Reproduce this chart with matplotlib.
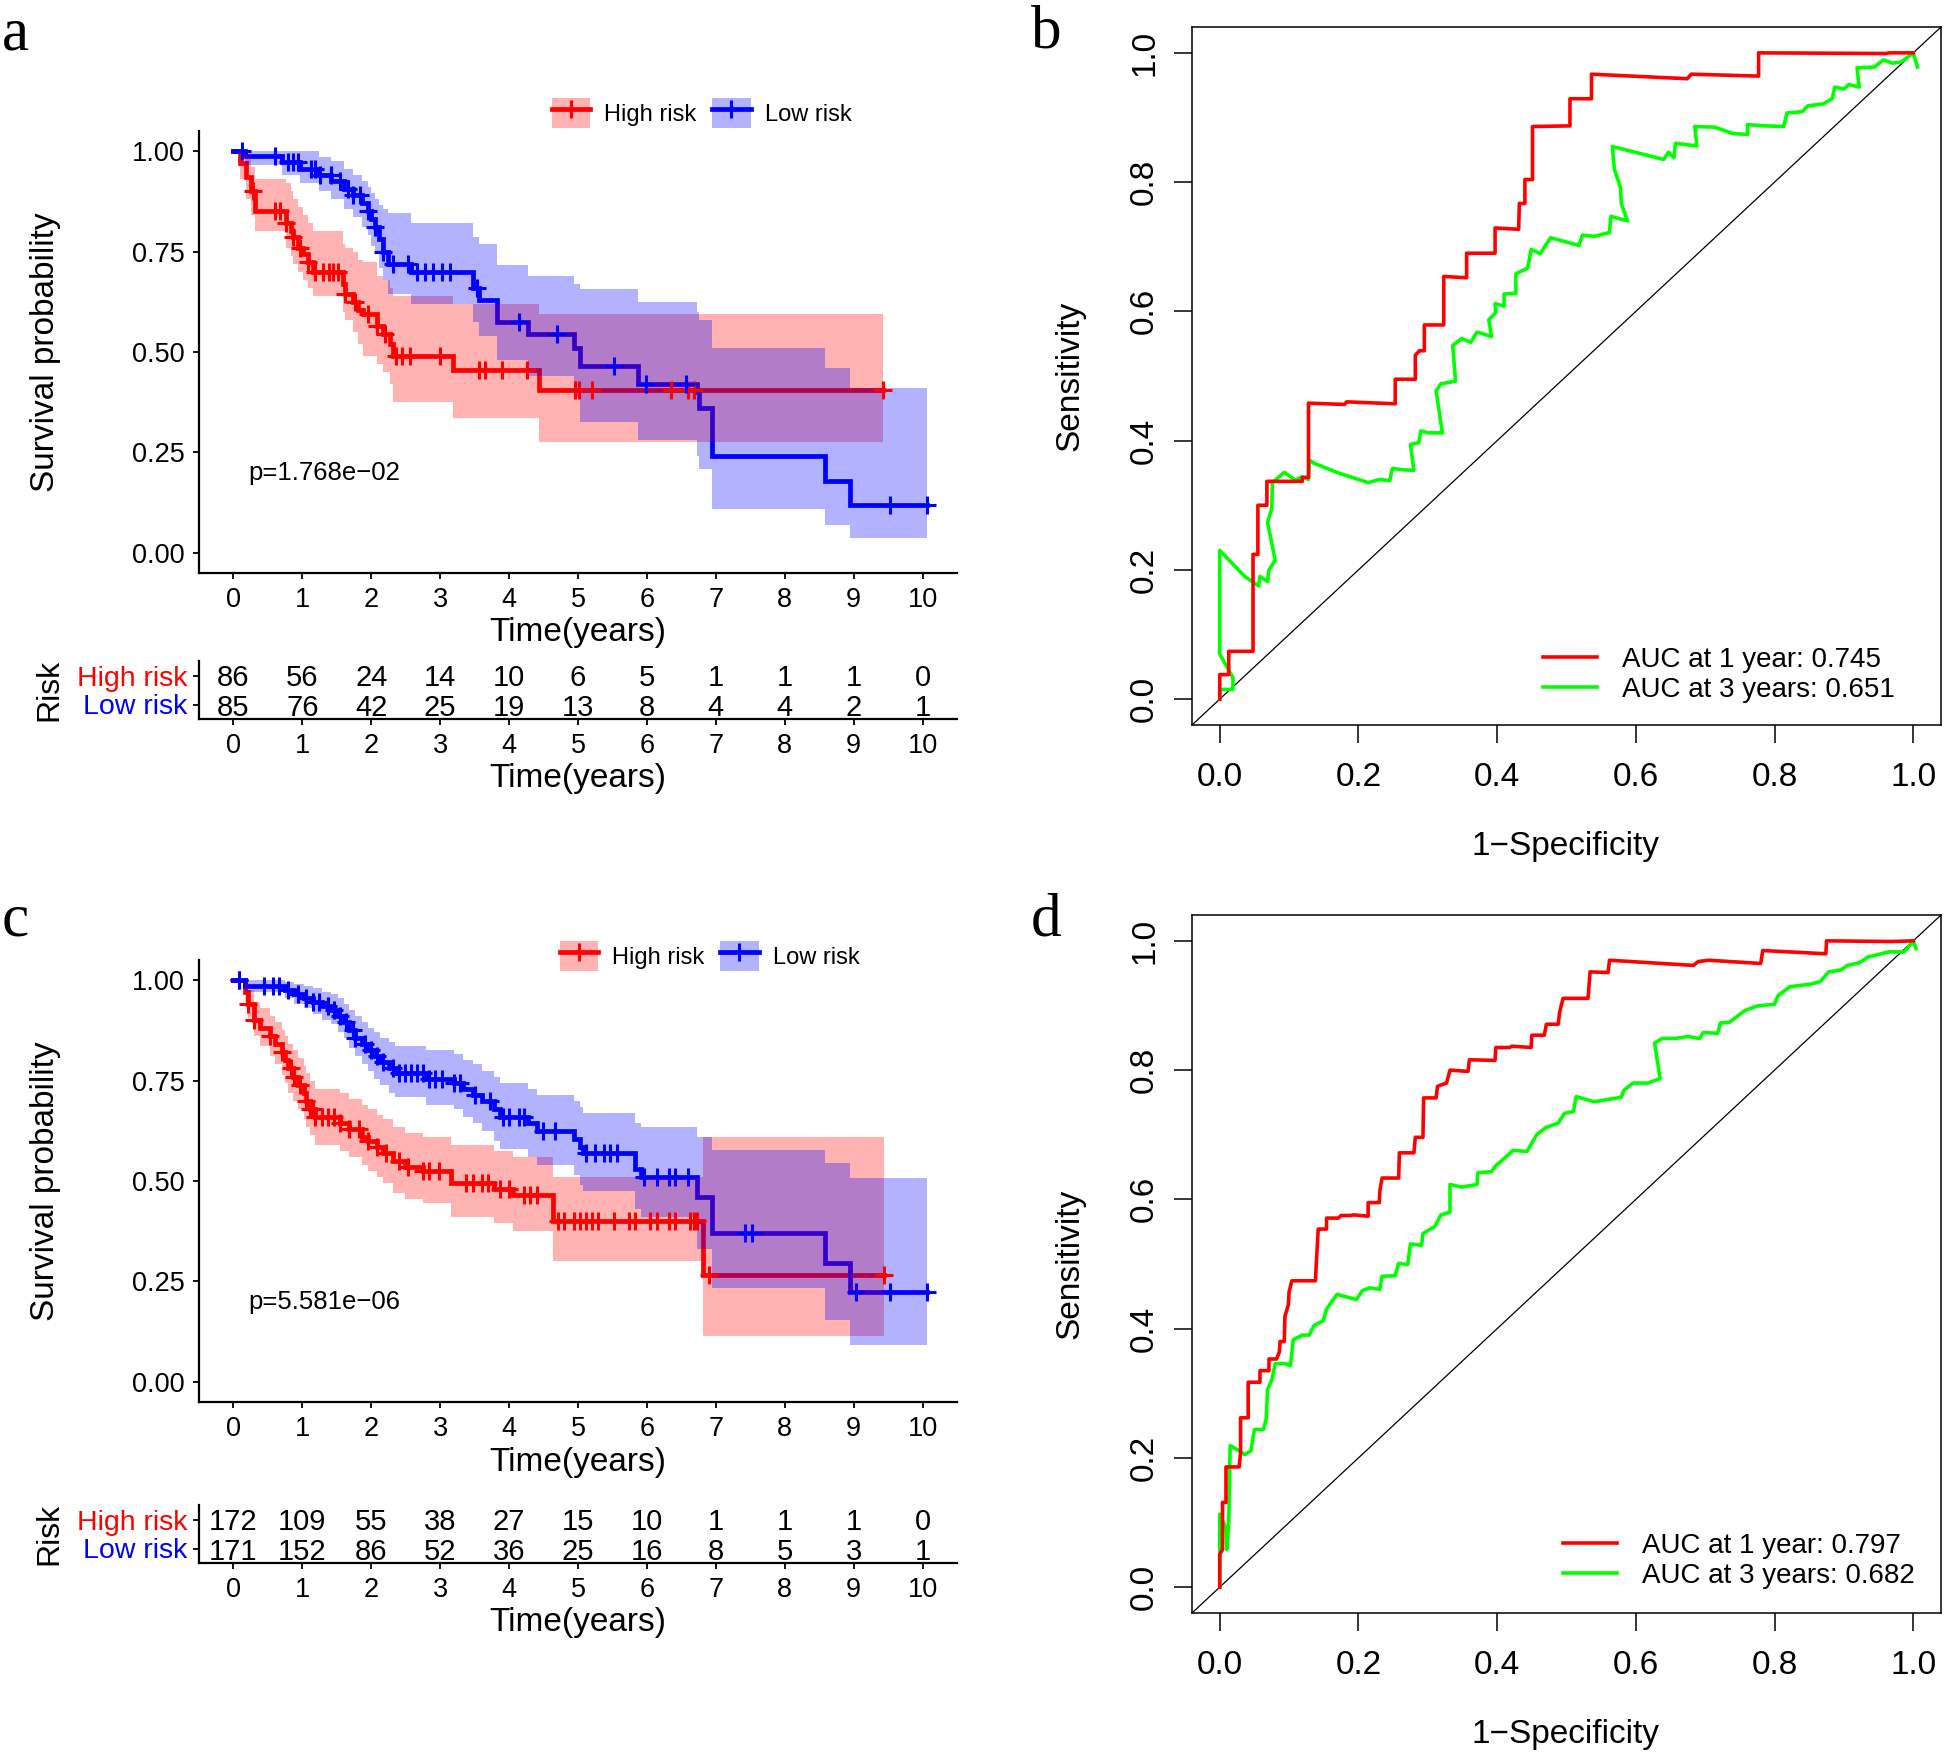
import numpy as np
import matplotlib
matplotlib.use('Agg')
import matplotlib.pyplot as plt
from matplotlib.patches import Patch
from matplotlib.lines import Line2D
from matplotlib.legend_handler import HandlerTuple

plt.rcParams['font.family'] = ['Liberation Sans', 'DejaVu Sans']

# ---------------- data ----------------
years = list(range(11))

# panel a: KM steps (time, survival, lower CI, upper CI)
a_high_t = [0, 0.09, 0.18, 0.25, 0.31, 0.76, 0.83, 0.87, 0.94, 1.01, 1.08, 1.16, 1.59, 1.62, 1.73, 1.81, 1.88, 2.09, 2.17, 2.27, 2.31, 3.18, 4.44]
a_high_s = [1.0, 0.97, 0.935, 0.90, 0.85, 0.82, 0.80, 0.785, 0.76, 0.745, 0.725, 0.70, 0.67, 0.645, 0.625, 0.605, 0.595, 0.565, 0.545, 0.52, 0.49, 0.456, 0.405]
a_high_lo = [1.0, 0.93, 0.88, 0.84, 0.80, 0.76, 0.74, 0.72, 0.70, 0.68, 0.66, 0.64, 0.60, 0.58, 0.55, 0.52, 0.49, 0.47, 0.45, 0.42, 0.375, 0.335, 0.275]
a_high_hi = [1.0, 1.0, 0.99, 0.96, 0.93, 0.92, 0.90, 0.88, 0.86, 0.84, 0.82, 0.80, 0.77, 0.76, 0.75, 0.73, 0.725, 0.69, 0.68, 0.66, 0.64, 0.62, 0.595]
a_high_end = 9.42
a_high_cens = [0.29, 0.61, 0.67, 0.76, 0.87, 0.97, 1.08, 1.19, 1.30, 1.38, 1.45, 1.52, 1.62, 1.77, 1.95, 2.09, 2.20,
               2.36, 2.45, 2.56, 3.00, 3.57, 3.65, 3.90, 4.26, 4.95, 5.02, 5.20, 6.35, 6.60, 6.68, 9.42]

a_low_t = [0, 0.17, 0.70, 0.97, 1.24, 1.42, 1.60, 1.73, 1.86, 1.95, 2.00, 2.06, 2.11, 2.17, 2.24, 2.58, 3.47, 3.56, 3.82, 4.27, 4.94, 5.03, 5.87, 6.72, 6.76, 6.94, 8.59, 8.95]
a_low_s = [1.0, 0.988, 0.972, 0.956, 0.94, 0.925, 0.905, 0.89, 0.87, 0.85, 0.83, 0.81, 0.78, 0.75, 0.72, 0.70, 0.66, 0.63, 0.575, 0.545, 0.51, 0.465, 0.42, 0.40, 0.36, 0.24, 0.18, 0.12]
a_low_lo = [1.0, 0.965, 0.94, 0.92, 0.90, 0.88, 0.855, 0.835, 0.81, 0.79, 0.765, 0.745, 0.71, 0.68, 0.645, 0.62, 0.575, 0.54, 0.48, 0.44, 0.39, 0.325, 0.28, 0.24, 0.21, 0.11, 0.07, 0.036]
a_low_hi = [1.0, 1.0, 1.0, 1.0, 0.985, 0.975, 0.955, 0.94, 0.925, 0.91, 0.895, 0.88, 0.865, 0.855, 0.845, 0.82, 0.787, 0.77, 0.716, 0.69, 0.67, 0.658, 0.625, 0.60, 0.58, 0.51, 0.46, 0.41]
a_low_end = 10.07
a_low_cens = [0.12, 0.61, 0.79, 0.87, 0.94, 1.12, 1.19, 1.26, 1.41, 1.55, 1.66, 1.73, 1.84, 1.95, 2.06, 2.17, 2.31,
              2.53, 2.67, 2.78, 2.89, 3.03, 3.14, 3.54, 4.15, 4.69, 5.52, 5.99, 6.57, 9.53, 10.07]

a_high_risk = [86, 56, 24, 14, 10, 6, 5, 1, 1, 1, 0]
a_low_risk = [85, 76, 42, 25, 19, 13, 8, 4, 4, 2, 1]
a_pval = 'p=1.768e\u221202'

# panel c
c_high_t = [0, 0.17, 0.21, 0.30, 0.39, 0.53, 0.61, 0.70, 0.75, 0.79, 0.86, 0.93, 1.02, 1.06, 1.11, 1.19, 1.55, 1.68, 1.86, 1.95, 2.09, 2.17, 2.31, 2.49, 2.75, 3.16, 3.78, 4.05, 4.63, 6.81]
c_high_s = [1.0, 0.97, 0.94, 0.90, 0.88, 0.86, 0.84, 0.82, 0.80, 0.78, 0.76, 0.74, 0.72, 0.70, 0.68, 0.66, 0.645, 0.63, 0.61, 0.60, 0.585, 0.57, 0.55, 0.535, 0.525, 0.495, 0.48, 0.465, 0.40, 0.265]
c_high_lo = [1.0, 0.945, 0.905, 0.86, 0.835, 0.81, 0.79, 0.765, 0.745, 0.72, 0.70, 0.68, 0.655, 0.635, 0.615, 0.59, 0.575, 0.56, 0.54, 0.525, 0.51, 0.495, 0.47, 0.455, 0.445, 0.41, 0.395, 0.375, 0.30, 0.115]
c_high_hi = [1.0, 0.995, 0.975, 0.945, 0.93, 0.91, 0.895, 0.875, 0.86, 0.84, 0.825, 0.805, 0.785, 0.77, 0.75, 0.73, 0.72, 0.705, 0.69, 0.68, 0.665, 0.655, 0.635, 0.62, 0.61, 0.59, 0.575, 0.56, 0.51, 0.61]
c_high_end = 9.44
c_high_cens = [0.08, 0.21, 0.30, 0.53, 0.70, 0.84, 0.88, 0.97, 1.06, 1.11, 1.15, 1.19, 1.28, 1.37, 1.46, 1.55, 1.68,
               1.82, 1.95, 2.09, 2.22, 2.40, 2.53, 2.75, 2.84, 2.98, 3.38, 3.47, 3.60, 3.69, 3.87, 4.00, 4.22, 4.31,
               4.40, 4.71, 4.80, 4.94, 5.03, 5.12, 5.20, 5.29, 5.52, 5.74, 5.83, 6.05, 6.14, 6.32, 6.41, 6.63, 6.68,
               6.72, 6.90, 9.44]

c_low_t = [0, 0.17, 0.75, 0.88, 1.02, 1.15, 1.28, 1.42, 1.51, 1.60, 1.68, 1.77, 1.86, 1.95, 2.04, 2.13, 2.26, 2.35, 2.80, 3.20, 3.33, 3.47, 3.60, 3.78, 3.87, 4.27, 4.40, 4.94, 5.03, 5.07, 5.83, 5.92, 6.72, 6.94, 8.59, 8.95]
c_low_s = [1.0, 0.985, 0.975, 0.965, 0.955, 0.945, 0.935, 0.925, 0.91, 0.895, 0.875, 0.855, 0.84, 0.825, 0.81, 0.795, 0.78, 0.77, 0.755, 0.745, 0.73, 0.715, 0.70, 0.68, 0.66, 0.645, 0.625, 0.605, 0.585, 0.57, 0.53, 0.51, 0.46, 0.37, 0.295, 0.225]
c_low_lo = [1.0, 0.97, 0.955, 0.94, 0.93, 0.915, 0.90, 0.89, 0.87, 0.855, 0.83, 0.81, 0.79, 0.775, 0.755, 0.74, 0.72, 0.71, 0.69, 0.68, 0.66, 0.645, 0.625, 0.60, 0.58, 0.56, 0.54, 0.515, 0.49, 0.475, 0.43, 0.41, 0.33, 0.233, 0.154, 0.092]
c_low_hi = [1.0, 1.0, 0.995, 0.99, 0.985, 0.98, 0.97, 0.965, 0.955, 0.94, 0.925, 0.91, 0.895, 0.88, 0.87, 0.855, 0.845, 0.835, 0.825, 0.815, 0.80, 0.79, 0.775, 0.76, 0.745, 0.73, 0.715, 0.70, 0.685, 0.67, 0.645, 0.635, 0.61, 0.576, 0.545, 0.508]
c_low_end = 10.06
c_low_cens = [0.08, 0.44, 0.57, 0.66, 0.79, 0.93, 1.06, 1.15, 1.24, 1.37, 1.46, 1.55, 1.64, 1.73, 1.77, 1.91, 2.00,
              2.09, 2.17, 2.31, 2.40, 2.49, 2.58, 2.67, 2.75, 2.84, 2.93, 3.02, 3.20, 3.29, 3.51, 3.73, 3.91, 4.00,
              4.14, 4.22, 4.49, 4.67, 5.12, 5.25, 5.38, 5.47, 5.56, 5.96, 6.14, 6.32, 6.41, 6.59, 7.43, 7.52, 9.04,
              9.53, 10.06]

c_high_risk = [172, 109, 55, 38, 27, 15, 10, 1, 1, 1, 0]
c_low_risk = [171, 152, 86, 52, 36, 25, 16, 8, 5, 3, 1]
c_pval = 'p=5.581e\u221206'

# panel b: ROC
b_fpr1 = [0, 0, 0.013, 0.013, 0.048, 0.048, 0.055, 0.055, 0.068, 0.068, 0.119, 0.119, 0.128, 0.128, 0.18, 0.183,
          0.253, 0.253, 0.282, 0.282, 0.288, 0.295, 0.295, 0.323, 0.323, 0.356, 0.356, 0.397, 0.397, 0.431, 0.432,
          0.44, 0.44, 0.451, 0.451, 0.505, 0.505, 0.536, 0.536, 0.674, 0.68, 0.777, 0.777, 0.961, 0.965, 1.0]
b_tpr1 = [0, 0.038, 0.038, 0.074, 0.074, 0.224, 0.224, 0.30, 0.30, 0.337, 0.337, 0.343, 0.343, 0.458, 0.456, 0.46,
          0.457, 0.495, 0.495, 0.532, 0.539, 0.539, 0.579, 0.579, 0.654, 0.652, 0.69, 0.69, 0.729, 0.727, 0.767,
          0.767, 0.804, 0.804, 0.886, 0.887, 0.929, 0.929, 0.967, 0.96, 0.967, 0.964, 1.0, 0.999, 1.0, 1.0]
b_fpr3 = [0, 0, 0.019, 0.019, 0, 0, 0.036, 0.056, 0.058, 0.069, 0.071, 0.08, 0.069, 0.075, 0.076, 0.093, 0.109,
          0.119, 0.128, 0.129, 0.136, 0.171, 0.214, 0.231, 0.245, 0.249, 0.262, 0.28, 0.275, 0.287, 0.29, 0.301,
          0.321, 0.312, 0.319, 0.34, 0.336, 0.349, 0.362, 0.371, 0.392, 0.388, 0.398, 0.397, 0.41, 0.41, 0.427,
          0.427, 0.444, 0.449, 0.462, 0.477, 0.518, 0.523, 0.54, 0.562, 0.564, 0.588, 0.579, 0.578, 0.569, 0.566,
          0.596, 0.64, 0.647, 0.655, 0.657, 0.688, 0.685, 0.714, 0.74, 0.761, 0.761, 0.787, 0.813, 0.818, 0.84,
          0.848, 0.87, 0.883, 0.887, 0.9, 0.907, 0.922, 0.919, 0.944, 0.957, 0.97, 0.983, 1.0, 1.006]
b_tpr3 = [0, 0.015, 0.015, 0.033, 0.07, 0.23, 0.19, 0.175, 0.19, 0.182, 0.2, 0.215, 0.273, 0.295, 0.335, 0.351,
          0.339, 0.344, 0.34, 0.37, 0.365, 0.35, 0.335, 0.34, 0.338, 0.357, 0.355, 0.354, 0.394, 0.397, 0.415,
          0.412, 0.412, 0.477, 0.488, 0.492, 0.547, 0.558, 0.552, 0.568, 0.561, 0.587, 0.598, 0.612, 0.608, 0.627,
          0.628, 0.658, 0.667, 0.696, 0.689, 0.714, 0.702, 0.718, 0.716, 0.722, 0.747, 0.74, 0.767, 0.791, 0.82,
          0.855, 0.847, 0.835, 0.846, 0.838, 0.86, 0.856, 0.886, 0.885, 0.875, 0.874, 0.889, 0.887, 0.886, 0.907,
          0.909, 0.918, 0.921, 0.929, 0.947, 0.944, 0.951, 0.947, 0.977, 0.978, 0.989, 0.984, 0.986, 1.0, 0.978]
b_labels = ['AUC at 1 year: 0.745', 'AUC at 3 years: 0.651']

# panel d: ROC
d_fpr1 = [0, 0, 0.004, 0.004, 0.009, 0.009, 0.028, 0.03, 0.03, 0.041, 0.041, 0.058, 0.058, 0.071, 0.071, 0.082,
          0.086, 0.087, 0.093, 0.094, 0.099, 0.1, 0.104, 0.138, 0.139, 0.142, 0.154, 0.154, 0.171, 0.175, 0.188,
          0.193, 0.214, 0.214, 0.23, 0.231, 0.234, 0.258, 0.259, 0.28, 0.282, 0.293, 0.294, 0.312, 0.314, 0.327,
          0.332, 0.358, 0.36, 0.397, 0.398, 0.418, 0.421, 0.449, 0.45, 0.468, 0.471, 0.488, 0.49, 0.495, 0.531,
          0.534, 0.56, 0.562, 0.683, 0.69, 0.705, 0.78, 0.783, 0.874, 0.875, 0.97, 1.0]
d_tpr1 = [0, 0.051, 0.058, 0.131, 0.131, 0.186, 0.186, 0.208, 0.262, 0.262, 0.317, 0.317, 0.335, 0.335, 0.353,
          0.353, 0.364, 0.38, 0.38, 0.419, 0.437, 0.457, 0.474, 0.474, 0.496, 0.554, 0.554, 0.571, 0.571, 0.575,
          0.575, 0.576, 0.574, 0.595, 0.595, 0.614, 0.633, 0.633, 0.672, 0.672, 0.696, 0.696, 0.757, 0.757, 0.775,
          0.78, 0.80, 0.798, 0.816, 0.815, 0.835, 0.835, 0.837, 0.835, 0.854, 0.854, 0.871, 0.871, 0.889, 0.911,
          0.911, 0.952, 0.951, 0.97, 0.962, 0.968, 0.97, 0.965, 0.985, 0.98, 1.0, 0.999, 1.0]
d_fpr3 = [0, 0, 0.009, 0.01, 0.013, 0.015, 0.028, 0.036, 0.045, 0.05, 0.063, 0.067, 0.069, 0.075, 0.08, 0.093,
          0.102, 0.106, 0.119, 0.129, 0.136, 0.149, 0.154, 0.169, 0.197, 0.206, 0.216, 0.231, 0.234, 0.253, 0.258,
          0.271, 0.275, 0.291, 0.293, 0.31, 0.319, 0.332, 0.332, 0.349, 0.371, 0.372, 0.392, 0.398, 0.41, 0.423,
          0.443, 0.449, 0.457, 0.47, 0.488, 0.497, 0.51, 0.514, 0.54, 0.579, 0.583, 0.596, 0.618, 0.635, 0.627,
          0.638, 0.657, 0.675, 0.692, 0.697, 0.718, 0.722, 0.735, 0.757, 0.774, 0.8, 0.805, 0.822, 0.852, 0.866,
          0.878, 0.896, 0.905, 0.922, 0.935, 0.965, 0.987, 1.0, 1.004]
d_tpr3 = [0, 0.113, 0.091, 0.058, 0.1, 0.219, 0.211, 0.205, 0.211, 0.244, 0.244, 0.26, 0.306, 0.32, 0.346, 0.346,
          0.343, 0.383, 0.39, 0.39, 0.405, 0.412, 0.43, 0.453, 0.445, 0.459, 0.463, 0.461, 0.481, 0.482, 0.501,
          0.499, 0.531, 0.529, 0.547, 0.558, 0.576, 0.58, 0.623, 0.619, 0.623, 0.641, 0.643, 0.652, 0.663, 0.676,
          0.674, 0.685, 0.70, 0.711, 0.718, 0.733, 0.736, 0.759, 0.751, 0.758, 0.769, 0.78, 0.78, 0.787, 0.842,
          0.849, 0.849, 0.852, 0.849, 0.858, 0.857, 0.873, 0.874, 0.892, 0.899, 0.902, 0.915, 0.929, 0.933, 0.937,
          0.952, 0.955, 0.962, 0.966, 0.975, 0.983, 0.983, 1.0, 0.988]
d_labels = ['AUC at 1 year: 0.797', 'AUC at 3 years: 0.682']

# ---------------- layout helpers (pixel boxes) ----------------
W, H = 1946, 1754
fig = plt.figure(figsize=(W / 100, H / 100), dpi=100)


def box(l, t, r, b):
    return [l / W, 1 - b / H, (r - l) / W, (b - t) / H]


def ftext(x, y, s, **kw):
    fig.text(x / W, 1 - y / H, s, **kw)


def km_curve(ax, t, s, lo, hi, end, cens, color, z):
    tt = np.append(t, end)
    ss = np.append(s, s[-1])
    # line sits under the translucent bands, censor ticks sit on top
    ax.step(tt, ss, where='post', color=color, lw=3.4, zorder=2, solid_joinstyle='miter')
    idx = np.searchsorted(t, cens, side='right') - 1
    ax.plot(cens, np.asarray(s)[idx], ls='none', marker='+', ms=13, mew=2.2, color=color, zorder=5)
    ax.fill_between(tt, np.append(lo, lo[-1]), np.append(hi, hi[-1]), step='post',
                    color=color, alpha=0.3, lw=0, zorder=z)


def km_panel(top, high, low, risk_high, risk_low, pval, leg_x, leg_y, risk_top, letter, letter_y):
    ax = fig.add_axes(box(199, top, 957, top + 442))
    km_curve(ax, *high, 'red', 3)
    km_curve(ax, *low, 'blue', 4)
    ax.set_xlim(-0.5, 10.5)
    ax.set_ylim(-0.05, 1.05)
    ax.set_xticks(years)
    ax.set_yticks([0, 0.25, 0.5, 0.75, 1.0])
    ax.set_yticklabels(['0.00', '0.25', '0.50', '0.75', '1.00'])
    for sp in ['top', 'right']:
        ax.spines[sp].set_visible(False)
    for sp in ['left', 'bottom']:
        ax.spines[sp].set_linewidth(1.6)
    ax.tick_params(labelsize=19.5, length=4.5, width=1.3, pad=5.5, colors='black')
    ax.text(0.21, 0.2, pval, fontsize=18.5, ha='left', va='center')
    ftext(46, top + 221, 'Survival probability', rotation=90, ha='center', va='center', fontsize=24)
    ftext(578, top + 502, 'Time(years)', ha='center', va='center', fontsize=24)

    handles = [(Patch(facecolor='red', alpha=0.3, edgecolor='none'),
                Line2D([], [], color='red', lw=3.4, marker='+', ms=13, mew=2.2)),
               (Patch(facecolor='blue', alpha=0.3, edgecolor='none'),
                Line2D([], [], color='blue', lw=3.4, marker='+', ms=13, mew=2.2))]
    fig.legend(handles, ['High risk', 'Low risk'], handler_map={tuple: HandlerTuple(ndivide=1)},
               ncol=2, loc='center left', bbox_to_anchor=(leg_x / W, 1 - leg_y / H), frameon=False,
               fontsize=17, handlelength=1.61, handleheight=1.57, handletextpad=0.6,
               columnspacing=0.68, borderpad=0, borderaxespad=0)

    # number at risk table
    rx = fig.add_axes(box(199, risk_top, 957, risk_top + 58))
    rx.set_xlim(-0.5, 10.5)
    rx.set_ylim(0.5, 2.5)
    for yr, nh, nl in zip(years, risk_high, risk_low):
        rx.text(yr, 2, str(nh), ha='center', va='center_baseline', fontsize=21)
        rx.text(yr, 1, str(nl), ha='center', va='center_baseline', fontsize=21)
    rx.set_xticks(years)
    rx.set_yticks([2, 1])
    rx.set_yticklabels(['High risk', 'Low risk'])
    for lab, col in zip(rx.get_yticklabels(), ['red', 'blue']):
        lab.set_color(col)
    for sp in ['top', 'right']:
        rx.spines[sp].set_visible(False)
    for sp in ['left', 'bottom']:
        rx.spines[sp].set_linewidth(1.6)
    rx.tick_params(axis='x', labelsize=19.5, length=4.5, width=1.3, pad=5.5)
    rx.tick_params(axis='y', labelsize=20.5, length=4.5, width=1.3, pad=4)
    ftext(49, risk_top + 29, 'Risk', rotation=90, ha='center', va='center', fontsize=23)
    ftext(578, risk_top + 118, 'Time(years)', ha='center', va='center', fontsize=24)

    ftext(2, letter_y, letter, family='Liberation Serif', fontsize=44, ha='left', va='baseline')


def roc_panel(top, fpr1, tpr1, fpr3, tpr3, labels, leg_x, leg_y, letter):
    ax = fig.add_axes(box(1192, top, 1941, top + 698))
    ax.axline((0, 0), slope=1, color='black', lw=0.9, zorder=1)
    l1, = ax.plot(fpr1, tpr1, color='#FF0000', lw=2.6, zorder=3)
    l3, = ax.plot(fpr3, tpr3, color='#00FF00', lw=2.6, zorder=2)
    ax.set_xlim(-0.04, 1.04)
    ax.set_ylim(-0.04, 1.04)
    ticks = [0, 0.2, 0.4, 0.6, 0.8, 1.0]
    ax.set_xticks(ticks)
    ax.set_yticks(ticks)
    ax.set_xticklabels(['%.1f' % v for v in ticks])
    ax.set_yticklabels(['%.1f' % v for v in ticks], rotation=90, va='center')
    for sp in ax.spines.values():
        sp.set_linewidth(1.1)
    ax.tick_params(labelsize=24, length=13, width=1.1)
    ax.tick_params(axis='x', pad=14)
    ax.tick_params(axis='y', pad=10)
    ax.legend([l1, l3], labels, loc='center left', bbox_to_anchor=(leg_x, leg_y), frameon=False,
              fontsize=20, handlelength=1.95, handletextpad=0.9, labelspacing=0.15,
              borderpad=0, borderaxespad=0)
    ftext(1070, top + 349, 'Sensitivity', rotation=90, ha='center', va='center', fontsize=24)
    ftext(1566, top + 819, '1\u2212Specificity', ha='center', va='center', fontsize=24)
    ftext(1031, top + 20, letter, family='Liberation Serif', fontsize=44, ha='left', va='baseline')


km_panel(131, (a_high_t, a_high_s, a_high_lo, a_high_hi, a_high_end, a_high_cens),
         (a_low_t, a_low_s, a_low_lo, a_low_hi, a_low_end, a_low_cens),
         a_high_risk, a_low_risk, a_pval, 552, 113, 661, 'a', 49)
km_panel(960, (c_high_t, c_high_s, c_high_lo, c_high_hi, c_high_end, c_high_cens),
         (c_low_t, c_low_s, c_low_lo, c_low_hi, c_low_end, c_low_cens),
         c_high_risk, c_low_risk, c_pval, 560, 956, 1505, 'c', 936)

roc_panel(27, b_fpr1, b_tpr1, b_fpr3, b_tpr3, b_labels, 0.4686, 0.0716, 'b')
roc_panel(915, d_fpr1, d_tpr1, d_fpr3, d_tpr3, d_labels, 0.4953, 0.0745, 'd')

fig.savefig('out.png', dpi=100)
